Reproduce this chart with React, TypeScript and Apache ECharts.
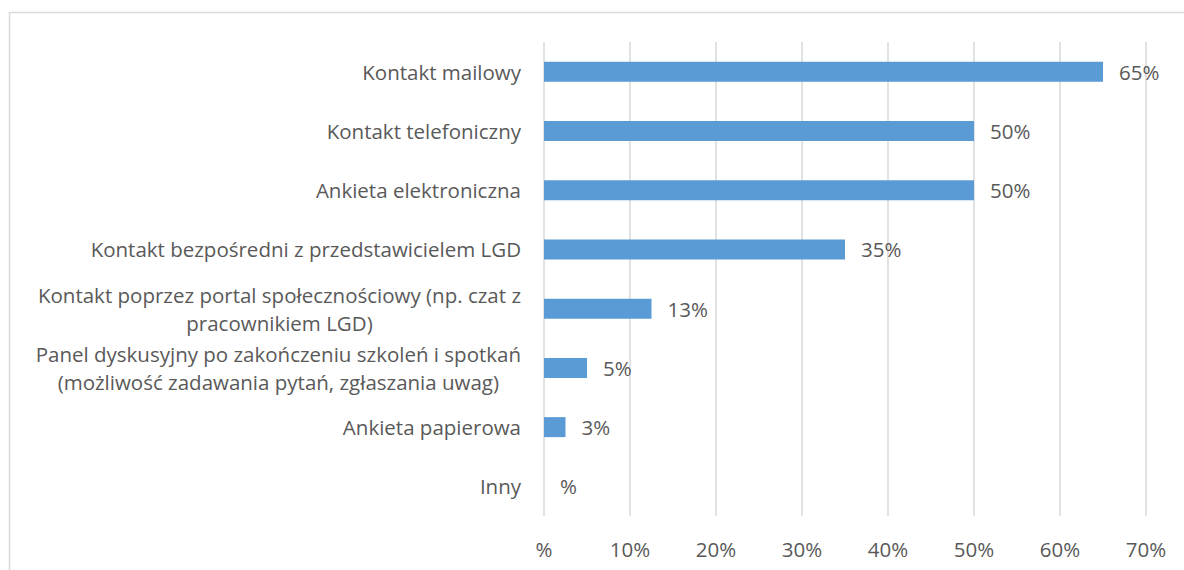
import React, { useEffect, useRef } from "react";
import * as echarts from "echarts";

const categories: string[] = [
  "Kontakt mailowy",
  "Kontakt telefoniczny",
  "Ankieta elektroniczna",
  "Kontakt bezpośredni z przedstawicielem LGD",
  "Kontakt poprzez portal społecznościowy (np. czat z\npracownikiem LGD)",
  "Panel dyskusyjny po zakończeniu szkoleń i spotkań\n(możliwość zadawania pytań, zgłaszania uwag)",
  "Ankieta papierowa",
  "Inny",
];
const values: number[] = [65, 50, 50, 35, 12.5, 5, 2.5, 0];
const axisMin = 0;
const axisMax = 70;
const axisStep = 10;

const FONT = "Open Sans";
const TEXT = "#595959";
const FS = 20.5;
const LH = 28;

const pct = (v: number) => {
  const r = Math.round(v);
  return r === 0 ? "%" : r + "%";
};

export default function App() {
  const ref = useRef<HTMLDivElement>(null);
  useEffect(() => {
    if (!ref.current) return;
    const chart = echarts.init(ref.current, undefined, { renderer: "svg" });
    chart.setOption({
      animation: false,
      backgroundColor: "#ffffff",
      graphic: [
        {
          type: "rect",
          shape: { x: 9.5, y: 12.5, width: 1300, height: 700 },
          style: { fill: "none", stroke: "#D9D9D9", lineWidth: 1.5 },
          silent: true,
        },
      ],
      grid: { left: 544, right: 38, top: 42, bottom: 54, containLabel: false },
      xAxis: {
        type: "value",
        min: axisMin,
        max: axisMax,
        interval: axisStep,
        axisLine: { show: false },
        axisTick: { show: false },
        splitLine: { show: true, lineStyle: { color: "#D9D9D9", width: 1.5 } },
        axisLabel: {
          formatter: (v: number) => pct(v),
          color: TEXT,
          fontFamily: FONT,
          fontSize: FS,
          margin: 22,
        },
      },
      yAxis: {
        type: "category",
        data: categories,
        inverse: true,
        axisLine: { show: false },
        axisTick: { show: false },
        splitLine: { show: false },
        axisLabel: {
          margin: 23,
          color: TEXT,
          fontFamily: FONT,
          fontSize: FS,
          lineHeight: LH,
          formatter: (v: string) =>
            v
              .split("\n")
              .map((l) => `{c|${l}}`)
              .join("\n"),
          rich: {
            c: {
              align: "center",
              color: TEXT,
              fontFamily: FONT,
              fontSize: FS,
              lineHeight: LH,
            },
          },
        },
      },
      series: [
        {
          type: "bar",
          data: values,
          barWidth: 20,
          itemStyle: { color: "#5B9BD5" },
          label: {
            show: true,
            position: "right",
            distance: 16,
            color: TEXT,
            fontFamily: FONT,
            fontSize: FS,
            formatter: (p: any) => pct(p.value),
          },
        },
      ],
    });
    return () => chart.dispose();
  }, []);
  return (
    <div
      ref={ref}
      style={{ position: "fixed", left: 0, top: 0, width: 1184, height: 570 }}
    />
  );
}
